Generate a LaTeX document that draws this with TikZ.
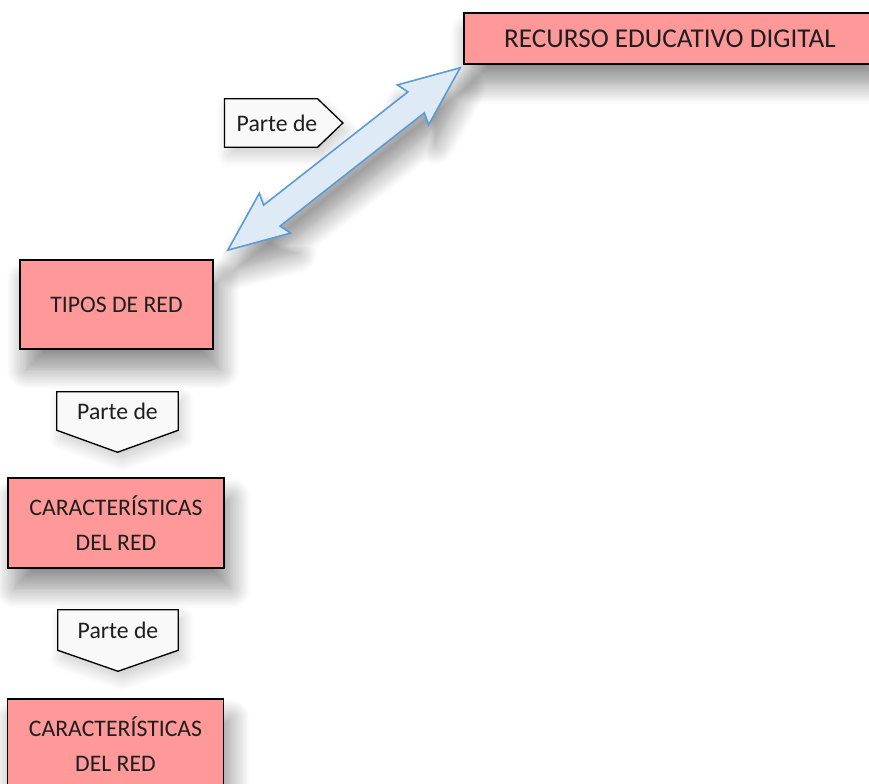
\documentclass[tikz,border=0pt]{standalone}
\usepackage{fontspec}
\setmainfont{Carlito}
\usetikzlibrary{calc,shadows.blur,backgrounds}
\definecolor{cajarosa}{HTML}{FF9999}
\definecolor{flechaazul}{HTML}{DEEBF7}
\definecolor{bordeazul}{HTML}{5B9BD5}
\definecolor{textogris}{HTML}{1E1E1E}
\tikzset{
	sombra/.style={blur shadow={shadow xshift=5pt,shadow yshift=-15pt,shadow blur radius=15pt,shadow blur steps=14,shadow opacity=45}},%
	sombraleve/.style={blur shadow={shadow xshift=3pt,shadow yshift=-6pt,shadow blur radius=9pt,shadow blur steps=10,shadow opacity=20}},%
	concepto/.style={draw=black,line width=1.2pt,fill=cajarosa,text=textogris,align=center,sombra},%
	enlace/.style={draw=black,fill=gray!5,line width=1pt,sombraleve},%
	enlacetexto/.style={inner sep=0pt,text=textogris},%
	flecha/.style={draw=bordeazul,fill=flechaazul,line width=1.2pt,sombra},%
}
\def\puntalargo{45pt}
\def\puntaancho{19pt}
\def\muesca{42pt}
\def\astil{10pt}

\begin{document}
\begin{tikzpicture}[%
		x=0.75pt,y=-0.75pt,%
		font=\fontsize{17.8}{26}\selectfont,%
		]
		\useasboundingbox (0,0) rectangle (869,784);
		% conceptos
		\node[concepto,minimum width=309pt,minimum height=38.25pt,font=\fontsize{20.4}{24}\selectfont] (recurso) at (670,38.5) {RECURSO EDUCATIVO DIGITAL};
		\node[concepto,minimum width=144.75pt,minimum height=66.75pt] (tipos) at (116.5,304.5) {TIPOS DE RED};
		\node[concepto,minimum width=162pt,minimum height=67.5pt] (carac1) at (116,523) {CARACTERÍSTICAS\\DEL RED};
		\node[concepto,minimum width=162pt,minimum height=67.5pt] (carac2) at (115.5,744) {CARACTERÍSTICAS\\DEL RED};
		% doble flecha
		\coordinate (puntaA) at ([shift={(14,-9)}]tipos.north east);
		\coordinate (puntaB) at ([shift={(-3,3)}]recurso.south west);
		\draw[flecha] (puntaA)
			-- ($(puntaA)!\puntalargo!(puntaB)!\puntaancho!90:(puntaB)$)
			-- ($(puntaA)!\muesca!(puntaB)!\astil!90:(puntaB)$)
			-- ($(puntaB)!\muesca!(puntaA)!\astil!-90:(puntaA)$)
			-- ($(puntaB)!\puntalargo!(puntaA)!\puntaancho!-90:(puntaA)$)
			-- (puntaB)
			-- ($(puntaB)!\puntalargo!(puntaA)!\puntaancho!90:(puntaA)$)
			-- ($(puntaB)!\muesca!(puntaA)!\astil!90:(puntaA)$)
			-- ($(puntaA)!\muesca!(puntaB)!\astil!-90:(puntaB)$)
			-- ($(puntaA)!\puntalargo!(puntaB)!\puntaancho!-90:(puntaB)$)
			-- cycle;
		% enlaces "Parte de"
		\node[enlacetexto,minimum width=63pt,minimum height=36pt] (parte1) at (271,123) {\hspace*{9pt}Parte de};
		\node[enlacetexto,minimum width=90.75pt,minimum height=28.5pt] (parte2) at (117.5,411) {Parte de};
		\node[enlacetexto,minimum width=90pt,minimum height=30pt] (parte3) at (118,630) {Parte de};
		\begin{scope}[on background layer]
			\draw[enlace] (parte1.north west) -- (parte1.north east) -- ([xshift=19pt]parte1.east) -- (parte1.south east) -- (parte1.south west) -- cycle;
			\draw[enlace] (parte2.north west) -- (parte2.north east) -- (parte2.south east) -- ([yshift=-16.5pt]parte2.south) -- (parte2.south west) -- cycle;
			\draw[enlace] (parte3.north west) -- (parte3.north east) -- (parte3.south east) -- ([yshift=-15.75pt]parte3.south) -- (parte3.south west) -- cycle;
		\end{scope}
	\end{tikzpicture}
\end{document}
